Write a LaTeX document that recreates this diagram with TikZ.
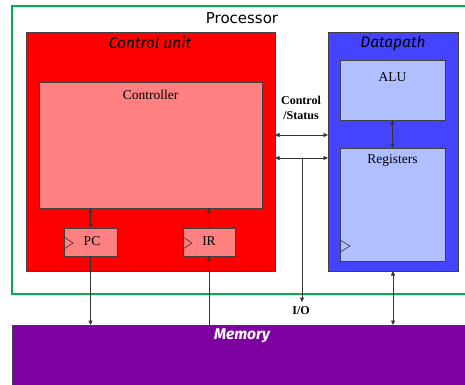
\documentclass[tikz,border=0pt]{standalone}
\usepackage{fontspec}
\setmainfont{Liberation Serif}
\newfontfamily\procfont{DejaVu Sans}
\newfontfamily\comicfont{Fira Sans}
\usetikzlibrary{arrows.meta}
\definecolor{cured}{HTML}{FF0000}
\definecolor{salmon}{HTML}{FF8080}
\definecolor{dpblue}{HTML}{4444FF}
\definecolor{ltblue}{HTML}{AFBFFF}
\definecolor{mempurple}{HTML}{7F00A0}
\definecolor{procgreen}{HTML}{00B050}
\begin{document}
\begin{tikzpicture}[x=1pt,y=-1pt,
  blk/.style={draw=black!75, line width=0.6pt, inner sep=0pt, outer sep=0pt},
  conn/.style={draw=black!80, line width=0.6pt},
  sgl/.style={conn, -{Triangle[length=4.5pt,width=4pt]}},
  dbl/.style={conn, {Triangle[length=4.5pt,width=4pt]}-{Triangle[length=4.5pt,width=4pt]}},
  serif/.style={font=\fontsize{13.5}{15}\selectfont, inner sep=0pt},
  comic/.style={font=\comicfont\itshape\fontsize{15.5}{17}\selectfont, inner sep=0pt},
  bold/.style={font=\bfseries\fontsize{12}{14}\selectfont, inner sep=0pt}]
\useasboundingbox (0,0) rectangle (465,384);
\clip (0,0) rectangle (465,384);
% processor
\node[draw=procgreen, line width=2pt, minimum width=458pt, minimum height=288pt, inner sep=0pt] (proc) at (241,150) {};
\node[font=\procfont\fontsize{15}{17}\selectfont, inner sep=0pt] (proct) at (242,18) {Processor};
% control unit
\node[blk, fill=cured, minimum width=249pt, minimum height=239pt] (cu) at (150.5,151.5) {};
\node[comic] (cut) at (150,43) {Control unit};
\node[blk, fill=salmon, minimum width=223pt, minimum height=126pt] (ctrl) at (150.5,145) {};
\node[serif] (ctrlt) at (150.5,95) {Controller};
\node[blk, fill=salmon, minimum width=53pt, minimum height=28pt] (pc) at (90.5,242) {};
\node[serif] (pct) at (92,241) {PC};
\node[blk, fill=salmon, minimum width=52pt, minimum height=28pt] (ir) at (209,242) {};
\node[serif] (irt) at (209,241) {IR};
\draw[conn] (pc.west) ++(0,-5) -- ++(9,6) -- ++(-9,6);
\draw[conn] (ir.west) ++(0,-5) -- ++(9,6) -- ++(-9,6);
% datapath
\node[blk, fill=dpblue, minimum width=130pt, minimum height=239pt] (dp) at (393,151.5) {};
\node[comic] (dpt) at (393,43) {Datapath};
\node[blk, fill=ltblue, minimum width=105pt, minimum height=60pt] (alu) at (392.5,90) {};
\node[serif] (alut) at (392.5,77) {ALU};
\node[blk, fill=ltblue, minimum width=105pt, minimum height=113pt] (reg) at (392.5,204.5) {};
\node[serif] (regt) at (392.5,160) {Registers};
\draw[conn] (reg.south west) ++(0,-21) -- ++(10,6) -- ++(-10,6);
% memory
\node[blk, fill=mempurple, minimum width=458pt, minimum height=65pt] (mem) at (241,357.5) {};
\node[comic, font=\comicfont\itshape\bfseries\fontsize{15.5}{17}\selectfont, text=white] (memt) at (242,336) {Memory};
% labels
\node[bold] (cs1) at (301,100) {Control};
\node[bold] (cs2) at (301,116) {/Status};
\node[bold] (io) at (301,311) {I/O};
% connectors
\draw[dbl] (pc.north) -- (pc.north |- ctrl.south);
\draw[sgl] (ir.north) -- (ir.north |- ctrl.south);
\draw[sgl] (pc.south) -- (pc.south |- mem.north);
\draw[sgl] (ir.south |- mem.north) -- (ir.south);
\draw[dbl] (alu.south) -- (reg.north);
\draw[dbl] (dp.south) -- (dp.south |- mem.north);
\coordinate (csy) at (302,135);
\coordinate (iotap) at (302,158);
\coordinate (iotip) at (302,302);
\draw[dbl] (cu.east |- csy) -- (dp.west |- csy);
\draw[dbl] (cu.east |- iotap) -- (dp.west |- iotap);
\draw[sgl] (iotap) -- (iotip);
\end{tikzpicture}
\end{document}
